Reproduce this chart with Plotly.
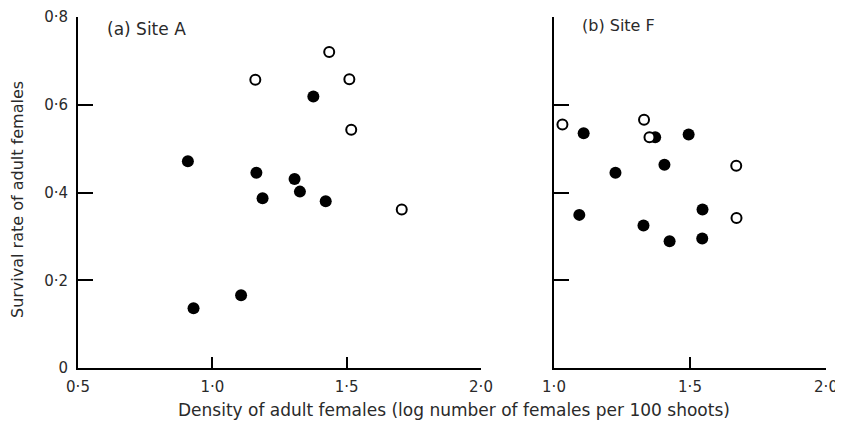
import plotly.graph_objects as go

# Site A data
a_filled_x = [0.909, 0.930, 1.107, 1.164, 1.187, 1.306, 1.326, 1.376, 1.422]
a_filled_y = [0.471, 0.136, 0.166, 0.445, 0.387, 0.431, 0.402, 0.619, 0.380]
a_open_x = [1.160, 1.435, 1.510, 1.517, 1.705]
a_open_y = [0.657, 0.720, 0.658, 0.543, 0.361]

# Site F data
f_filled_x = [1.109, 1.093, 1.226, 1.372, 1.406, 1.495, 1.329, 1.425, 1.546, 1.545]
f_filled_y = [0.535, 0.349, 0.445, 0.526, 0.463, 0.532, 0.325, 0.289, 0.361, 0.295]
f_open_x = [1.031, 1.331, 1.351, 1.670, 1.671]
f_open_y = [0.555, 0.566, 0.526, 0.461, 0.342]

y_ticks = [0, 0.2, 0.4, 0.6, 0.8]
y_ticktext = ["0", "0·2", "0·4", "0·6", "0·8"]
xa_ticks = [0.5, 1.0, 1.5, 2.0]
xa_ticktext = ["0·5", "1·0", "1·5", "2·0"]
xb_ticks = [1.0, 1.5, 2.0]
xb_ticktext = ["1·0", "1·5", "2·0"]

FONT = "DejaVu Sans"
TXT = "#2a2a2a"
OFF = 8  # default page body margin
W, H = 843 - OFF, 424 - OFF


def fx(px):
    return (px - OFF) / W


def fy(py):
    return (H - (py - OFF)) / H


fig = go.Figure()
filled = dict(size=12, color="black", line=dict(width=0))
openm = dict(size=10, color="white", line=dict(width=2, color="black"))

fig.add_trace(go.Scatter(x=a_filled_x, y=a_filled_y, mode="markers", marker=filled, xaxis="x", yaxis="y"))
fig.add_trace(go.Scatter(x=a_open_x, y=a_open_y, mode="markers", marker=openm, xaxis="x", yaxis="y"))
fig.add_trace(go.Scatter(x=f_filled_x, y=f_filled_y, mode="markers", marker=filled, xaxis="x2", yaxis="y2"))
fig.add_trace(go.Scatter(x=f_open_x, y=f_open_y, mode="markers", marker=openm, xaxis="x2", yaxis="y2"))

ydom = [fy(368), fy(17)]
axis_common = dict(showline=True, linecolor="black", linewidth=2, ticks="inside",
                   tickcolor="black", tickwidth=2, showgrid=False, zeroline=False,
                   automargin=False,
                   tickfont=dict(family=FONT, size=15, color=TXT))

fig.update_layout(
    width=W, height=H, margin=dict(l=0, r=0, t=0, b=0),
    paper_bgcolor="white", plot_bgcolor="white", showlegend=False,
    xaxis=dict(domain=[fx(78), fx(481)], range=[0.5, 2.0], tickvals=xa_ticks,
               ticktext=xa_ticktext, ticklen=11, anchor="y", ticklabelstandoff=4, **axis_common),
    yaxis=dict(domain=ydom, range=[0, 0.8], tickvals=y_ticks, ticktext=y_ticktext,
               ticklen=15, anchor="x", ticklabelstandoff=5, **axis_common),
    xaxis2=dict(domain=[fx(554), fx(826)], range=[1.0, 2.0], tickvals=xb_ticks,
                ticktext=xb_ticktext, ticklen=11, anchor="y2", ticklabelstandoff=4, **axis_common),
    yaxis2=dict(domain=ydom, range=[0, 0.8], tickvals=y_ticks, ticklen=15,
                showticklabels=False, anchor="x2", **axis_common),
)

fig.add_annotation(text="(a) Site A", xref="paper", yref="paper", x=fx(105), y=fy(29),
                   xanchor="left", yanchor="middle", showarrow=False,
                   font=dict(family=FONT, size=17, color=TXT))
fig.add_annotation(text="(b) Site F", xref="paper", yref="paper", x=fx(580), y=fy(26),
                   xanchor="left", yanchor="middle", showarrow=False,
                   font=dict(family=FONT, size=16, color=TXT))
fig.add_annotation(text="Survival rate of adult females", xref="paper", yref="paper",
                   x=fx(17), y=fy(200), textangle=-90, xanchor="center", yanchor="middle",
                   showarrow=False, font=dict(family=FONT, size=16, color=TXT))
fig.add_annotation(text="Density of adult females (log number of females per 100 shoots)",
                   xref="paper", yref="paper", x=fx(454), y=fy(410),
                   xanchor="center", yanchor="middle", showarrow=False,
                   font=dict(family=FONT, size=17, color=TXT))

fig.write_html("out.html")
